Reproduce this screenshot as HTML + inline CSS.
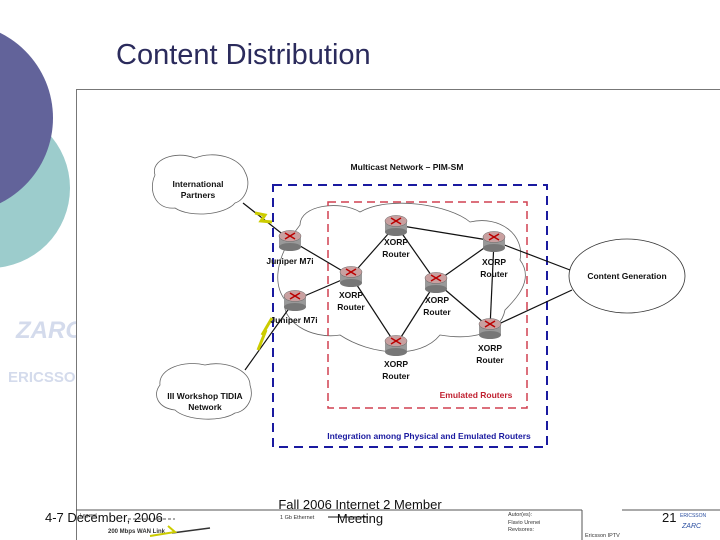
<!DOCTYPE html>
<html><head><meta charset="utf-8"><style>
body{margin:0;width:720px;height:540px;overflow:hidden;background:#fff;position:relative;font-family:"Liberation Sans",sans-serif}
.a{position:absolute}
</style></head><body>
<svg class="a" style="left:0;top:0" width="720" height="540">
<circle cx="-10" cy="188" r="80" fill="#9ccccc"/>
<circle cx="-42" cy="118" r="95" fill="#62639a"/>
<text x="16" y="338" font-size="24" font-style="italic" font-weight="bold" fill="#d4dbec">ZARC</text>
<text x="8" y="382" font-size="15" font-weight="bold" fill="#d4dbec">ERICSSON</text>
<rect x="76.5" y="89.5" width="650" height="460" fill="#fff" stroke="#777"/>
<text x="116" y="64" font-size="29" fill="#2b2b5c">Content Distribution</text>
<g fill="none" stroke="#666" stroke-width="0.8">
<path d="M155,175 C150,160 175,150 195,158 C215,150 240,158 245,172 C252,185 245,200 235,203 C225,215 190,218 175,208 C155,210 148,190 155,175Z"/>
<path d="M160,385 C158,368 185,360 205,365 C225,360 250,370 250,385 C255,400 245,412 235,413 C220,423 185,420 175,410 C158,408 152,395 160,385Z"/>
<path d="M300,225 C300,205 340,200 360,212 C390,195 450,205 470,222 C500,215 525,235 520,260 C535,280 515,300 505,310 C500,335 470,340 440,335 C420,360 370,355 340,335 C310,340 280,320 285,300 C270,280 280,250 300,225Z"/>
<ellipse cx="627" cy="276" rx="58" ry="37" stroke="#333"/>
</g>
<rect x="273" y="185" width="274" height="262" fill="none" stroke="#1a1aa0" stroke-width="2" stroke-dasharray="9,6"/>
<rect x="328" y="202" width="199" height="206" fill="none" stroke="#d04050" stroke-width="1.5" stroke-dasharray="8,5"/>
<g stroke="#111" stroke-width="1.2">
<line x1="243" y1="203" x2="290" y2="240"/><line x1="245" y1="370" x2="295" y2="300"/>
<line x1="290" y1="240" x2="351" y2="276"/><line x1="295" y1="300" x2="351" y2="276"/>
<line x1="351" y1="276" x2="396" y2="225"/><line x1="351" y1="276" x2="396" y2="345"/>
<line x1="396" y1="225" x2="436" y2="282"/><line x1="396" y1="345" x2="436" y2="282"/>
<line x1="396" y1="225" x2="494" y2="241"/><line x1="436" y1="282" x2="494" y2="241"/>
<line x1="436" y1="282" x2="490" y2="328"/><line x1="494" y1="241" x2="490" y2="328"/>
<line x1="494" y1="241" x2="570" y2="270"/><line x1="490" y1="328" x2="572" y2="290"/>
</g>
<path d="M255,213 L265,215 L261,221 L272,222" stroke="#cc0" stroke-width="3" fill="none"/>
<path d="M258,350 L266,330 L262,335 L272,318" stroke="#cc0" stroke-width="3" fill="none"/>
<g font-size="8.5" font-weight="bold" fill="#111" text-anchor="middle">
<text x="198" y="187">International</text><text x="198" y="198">Partners</text>
<text x="205" y="399">III Workshop TIDIA</text><text x="205" y="410">Network</text>
<text x="290" y="264">Juniper M7i</text><text x="294" y="323">Juniper M7i</text>
<text x="396" y="245">XORP</text><text x="396" y="257">Router</text>
<text x="351" y="298">XORP</text><text x="351" y="310">Router</text>
<text x="437" y="303">XORP</text><text x="437" y="315">Router</text>
<text x="494" y="265">XORP</text><text x="494" y="277">Router</text>
<text x="490" y="351">XORP</text><text x="490" y="363">Router</text>
<text x="396" y="367">XORP</text><text x="396" y="379">Router</text>
<text x="627" y="279">Content Generation</text>
<text x="407" y="170">Multicast Network – PIM-SM</text>
<text x="476" y="398" fill="#c02030">Emulated Routers</text>
<text x="429" y="439" fill="#1a1aa0">Integration among Physical and Emulated Routers</text>
</g>
<line x1="76" y1="510" x2="582" y2="510" stroke="#555"/>
<line x1="582" y1="510" x2="582" y2="540" stroke="#555"/>
<line x1="622" y1="510" x2="720" y2="510" stroke="#555"/>
<text x="80" y="517" font-size="5" fill="#333">Legend</text>
<line x1="128" y1="519" x2="175" y2="519" stroke="#555" stroke-dasharray="3,2"/>
<text x="280" y="519" font-size="5.5" fill="#333">1 Gb Ethernet</text>
<line x1="328" y1="517" x2="368" y2="517" stroke="#111"/>
<text x="108" y="533" font-size="6" font-weight="bold" fill="#333">200 Mbps WAN Link</text>
<path d="M172,533 L210,528" stroke="#333" stroke-width="1.5"/>
<path d="M150,536 L175,532 L168,526" stroke="#cc0" stroke-width="2" fill="none"/>
<text x="508" y="516" font-size="5.5" fill="#333">Autor(es):</text>
<text x="508" y="524" font-size="5.5" fill="#333">Flavio Urenei</text>
<text x="508" y="531" font-size="5.5" fill="#333">Revisores:</text>
<text x="585" y="537" font-size="5.5" fill="#333">Ericsson IPTV</text>
<text x="680" y="517" font-size="5" fill="#2a4ea0">ERICSSON</text>
<text x="682" y="528" font-size="7" font-style="italic" fill="#2a4ea0">ZARC</text>
<text x="45" y="522" font-size="13" fill="#111">4-7 December, 2006</text>
<text x="360" y="509" font-size="13" fill="#111" text-anchor="middle">Fall 2006 Internet 2 Member</text>
<text x="360" y="523" font-size="13" fill="#111" text-anchor="middle">Meeting</text>
<text x="662" y="522" font-size="13" fill="#111">21</text>
</svg>
<svg class="a" style="left:0;top:0" width="720" height="540">
<defs><g id="rt"><rect x="-11" y="-4" width="22" height="11" fill="#999"/><ellipse cx="0" cy="7" rx="11" ry="4" fill="#777"/><ellipse cx="0" cy="-4" rx="11" ry="5.5" fill="#c9a0a0" stroke="#666" stroke-width=".5"/><path d="M-5,-7 L5,-1 M5,-7 L-5,-1" stroke="#b00" stroke-width="1.5"/></g></defs>
<use href="#rt" x="290" y="240"/><use href="#rt" x="295" y="300"/><use href="#rt" x="396" y="225"/>
<use href="#rt" x="351" y="276"/><use href="#rt" x="436" y="282"/><use href="#rt" x="494" y="241"/>
<use href="#rt" x="490" y="328"/><use href="#rt" x="396" y="345"/>
</svg>
</body></html>
